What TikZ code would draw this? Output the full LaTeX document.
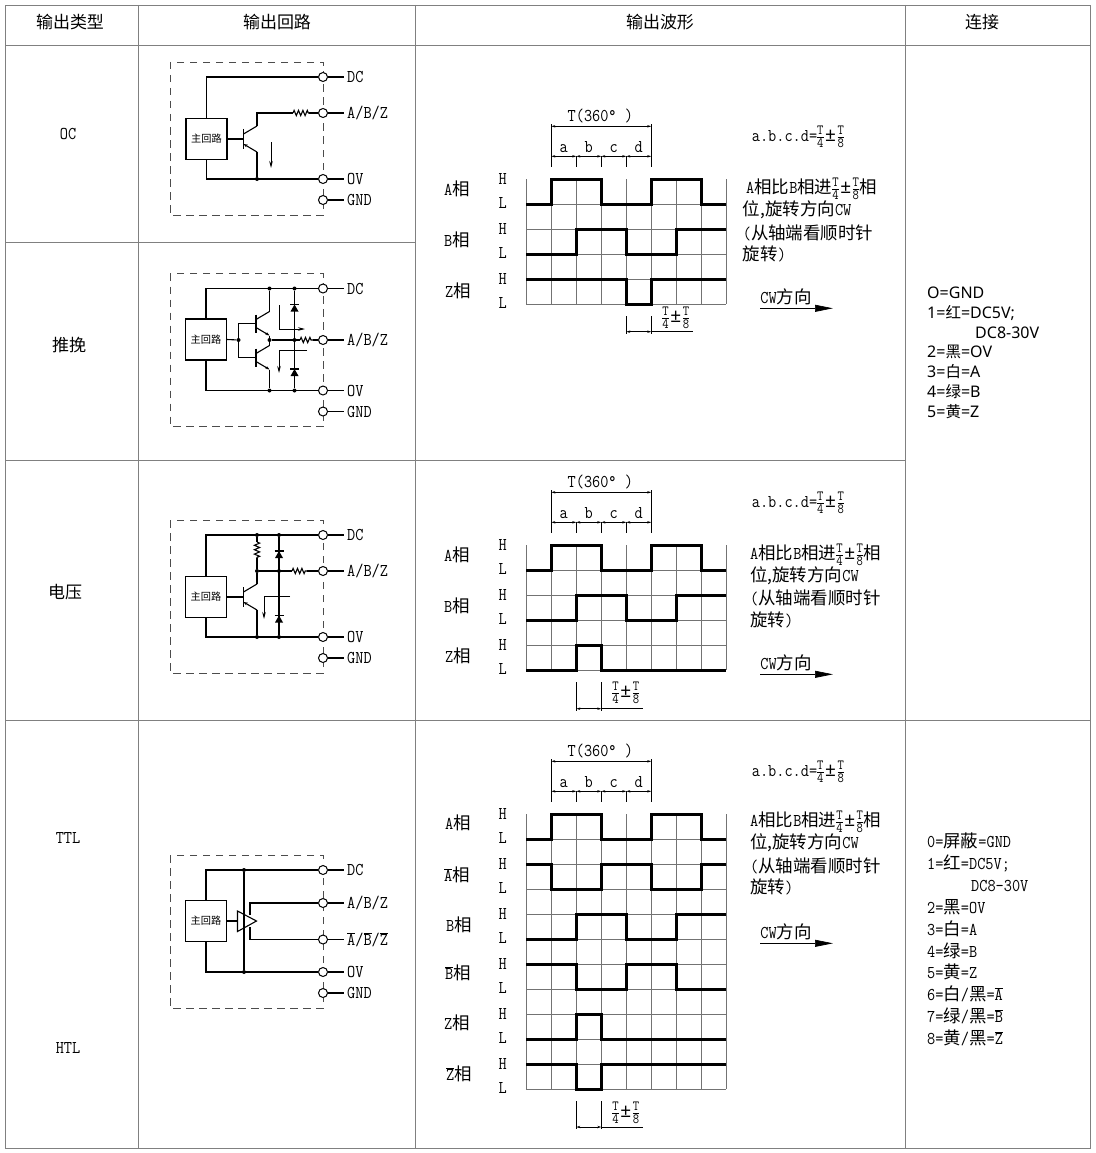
\documentclass[tikz,border=0pt]{standalone}
\usepackage{fontspec}
\setmainfont[FakeStretch=0.88]{Latin Modern Mono}
\newfontfamily\cjk[Scale=0.97]{Noto Sans CJK SC}
\newfontfamily\listsans{Noto Sans}
\usetikzlibrary{arrows.meta,positioning,decorations.pathmorphing}

\newcommand{\zh}[1]{{\cjk #1}}
\newcommand{\barsig}[1]{$\overline{\hbox{#1}}$}
\newcommand{\fracfont}{\fontsize{14}{14}\selectfont}
\newcommand{\pmsign}{\hbox to 14pt{\hss\listsans\fontsize{19}{19}\selectfont ±\hss}}
\newcommand{\tpm}{{\nulldelimiterspace=0pt $\frac{\hbox{\fracfont T}}{\hbox{\fracfont 4}}$\pmsign$\frac{\hbox{\fracfont T}}{\hbox{\fracfont 8}}$}}

\tikzset{
  tableline/.style={draw=black!50,line width=0.9pt},
  gridline/.style={draw=black!55,line width=0.8pt},
  wave/.style={draw=black,line width=2.5pt,line join=miter},
  wire/.style={draw=black,line width=1.1pt},
  res/.style={wire,decorate,decoration={zigzag,segment length=4.4pt,amplitude=2.6pt}},
  flow/.style={draw=black,line width=0.8pt,-{Stealth[length=7pt,width=3.5pt]}},
  dashbox/.style={draw=black!70,line width=0.9pt,dash pattern=on 7.5pt off 5.5pt},
  dimline/.style={draw=black,line width=0.7pt},
  dimarrow/.style={dimline,{Stealth[length=4pt,width=2.4pt]}-{Stealth[length=4pt,width=2.4pt]}},
  txt/.style={inner sep=0pt,font=\fontsize{18}{20}\selectfont},
  head/.style={inner sep=0pt,font=\fontsize{17.5}{20}\selectfont},
  lbl/.style={inner xsep=3pt,inner ysep=0pt,font=\fontsize{18}{20}\selectfont},
  term/.style={circle,draw=black,line width=1pt,fill=white,minimum size=9pt,inner sep=0pt},
  jdot/.style={circle,fill=black,minimum size=4pt,inner sep=0pt},
  mainbox/.style={draw=black,line width=1.1pt,minimum size=41pt,inner sep=0pt,font=\fontsize{10.5}{12}\selectfont},
  bjt/.pic={
    \draw[wire,line width=1.5pt] (0,-10) -- (0,10);
    \coordinate (-b) at (0,0);
    \coordinate (-c) at (13.5,-13);
    \coordinate (-e) at (13.5,13);
    \draw[wire] (0,-5) -- (-c);
    \draw[wire,{Stealth[length=4pt,width=3pt]}-] (0,5) -- (-e);
  },
  bjtout/.pic={
    \draw[wire,line width=1.5pt] (0,-9) -- (0,9);
    \coordinate (-b) at (0,0);
    \coordinate (-c) at (13.5,-12);
    \coordinate (-e) at (13.5,12);
    \draw[wire] (0,-4) -- (-c);
    \draw[wire,-{Stealth[length=4pt,width=3pt]}] (0,4) -- (-e);
  },
  diode/.pic={
    \fill[black] (-4,3.5) -- (4,3.5) -- (0,-3.5) -- cycle;
    \draw[wire] (-4.5,-3.5) -- (4.5,-3.5);
  }
}

% terminal on the right edge of a circuit box
\newcommand{\terminal}[3]{%
  \node[term] (#1) at (323,#2) {};
  \node[lbl,right=16pt of #1] (#1l) {#3};
  \draw[wire] (#1) -- (#1l.west);
}
\newcommand{\circframe}[2]{%
  \draw[dashbox] (170,#2) rectangle (323,#2+153);
  \terminal{#1dc}{#2+15}{DC}
  \terminal{#1ov}{#2+117}{OV}
  \terminal{#1gnd}{#2+138}{GND}
}
% period and quarter marks above a waveform grid
\newcommand{\wavetop}[2]{%
  \begin{scope}[shift={(526.3,#2)}]
    \foreach \k in {0,...,4} {
      \coordinate (#1h\k) at (25+25*\k,-23);
      \coordinate (#1e\k) at (25+25*\k,-12);
    }
    \coordinate (#1p0) at (25,-53);
    \coordinate (#1p4) at (125,-53);
    \coordinate (#1u0) at (25,-55);
    \coordinate (#1u4) at (125,-55);
    \draw[dimline] (#1u0) -- (#1e0);
    \draw[dimline] (#1u4) -- (#1e4);
    \foreach \k in {1,2,3} \draw[dimline] (#1h\k) -- (#1e\k);
    \draw[dimarrow] (#1p0) -- (#1p4);
    \foreach \a/\b in {0/1,1/2,2/3,3/4} \draw[dimarrow] (#1h\a) -- (#1h\b);
    \node[txt] (#1T) at (74,-63) {T(360°~)};
    \foreach \t [count=\i from 0] in {a,b,c,d}
      \node[txt,anchor=base] (#1\t) at (37.5+25*\i,-27) {\t};
    \node[txt,anchor=west] (#1eq) at (225.4,-42.6) {a.b.c.d=\tpm};
  \end{scope}
}
\newcommand{\wavegrid}[2]{%
  \foreach \k in {0,...,8} \draw[gridline] (\k,0) -- (\k,#1);
  \foreach \r in {1,...,#1} \draw[gridline] (0,\r) -- (8,\r);
  \foreach \r in {0,2,...,#2} {
    \node[txt] at (-0.944,\r) {H};
    \node[txt] at (-0.944,\r+0.93) {L};
  }
}
\newcommand{\phasetext}[4]{%
  \node[txt,anchor=west] (#1l1) at (#2,#4) {A\zh{相比}B\zh{相进}\tpm\zh{相}};
  \node[txt,anchor=west] (#1l2) at (#3,#4+21) {\zh{位,旋转方向}CW};
  \node[txt,anchor=west] (#1l3) at (#3,#4+43.5) {(\zh{从轴端看顺时针}};
  \node[txt,anchor=west] (#1l4) at (#3,#4+65) {\zh{旋转})};
}
\newcommand{\cwmark}[2]{%
  \node[txt] (#1cw) at (786,#2) {CW\zh{方向}};
  \coordinate (#1cwa) at (760,#2+11.3);
  \coordinate (#1cwb) at (833,#2+11.3);
  \draw[dimline,-{Stealth[length=18pt,width=7pt,inset=0pt]}] (#1cwa) -- (#1cwb);
}
\newcommand{\phasemark}[5]{%
  \coordinate (#1ma) at (#2,#3);
  \coordinate (#1mb) at (#2+25,#3);
  \coordinate (#1na) at (#2,#4);
  \coordinate (#1nb) at (#2+25,#4);
  \coordinate (#1nc) at (#2+25,#4+2);
  \coordinate (#1nd) at (#2,#4+2);
  \coordinate (#1ne) at (#2+67,#4);
  \draw[dimline] (#1ma) -- (#1nd);
  \draw[dimline] (#1mb) -- (#1nc);
  \draw[dimarrow] (#1na) -- (#1nb);
  \draw[dimline] (#1nb) -- (#1ne);
  \node[txt] (#1mf) at (#2+49.5,#5) {\tpm};
}

\begin{document}
\begin{tikzpicture}[x=1pt,y=-1pt]
  \useasboundingbox (0,0) rectangle (1095,1153);

  % table
  \draw[tableline] (5,5) rectangle (1090,1148);
  \draw[tableline] (138,5) -- (138,1148);
  \draw[tableline] (415,5) -- (415,1148);
  \draw[tableline] (905,5) -- (905,1148);
  \draw[tableline] (5,45) -- (1090,45);
  \draw[tableline] (5,242) -- (415,242);
  \draw[tableline] (5,460) -- (905,460);
  \draw[tableline] (5,720) -- (1090,720);

  \node[head] (h1) at (70,22) {\zh{输出类型}};
  \node[head] (h2) at (277,22) {\zh{输出回路}};
  \node[head] (h3) at (660,22) {\zh{输出波形}};
  \node[head] (h4) at (982,22) {\zh{连接}};
  \node[txt] (oc) at (68,134) {OC};
  \node[head] (pp) at (69,345) {\zh{推挽}};
  \node[head] (volt) at (65,592) {\zh{电压}};
  \node[txt] (ttl) at (68,838) {TTL};
  \node[txt] (htl) at (68,1048) {HTL};

  % OC circuit
  \circframe{c1}{62}
  \terminal{c1s}{113}{A/B/Z}
  \node[mainbox] (c1m) at (206.5,139) {\zh{主回路}};
  \pic (c1q) at (243.5,139) {bjt};
  \node[jdot] (c1d) at (257,179) {};
  \coordinate (c1r1) at (293,113);
  \coordinate (c1r2) at (309,113);
  \coordinate (c1fa) at (271,142);
  \coordinate (c1fb) at (271,168);
  \draw[wire] (c1m.north) |- (c1dc);
  \draw[wire] (c1m.south) |- (c1ov);
  \draw[wire] (c1m.east) -- (c1q-b);
  \draw[wire] (c1q-c) |- (c1r1);
  \draw[res] (c1r1) -- (c1r2);
  \draw[wire] (c1r2) -- (c1s);
  \draw[wire] (c1q-e) -- (c1d);
  \draw[flow] (c1fa) -- (c1fb);

  % push-pull circuit
  \circframe{c2}{273.5}
  \terminal{c2s}{340}{A/B/Z}
  \node[mainbox] (c2m) at (206,339.5) {\zh{主回路}};
  \pic (c2q) at (256,323.5) {bjtout};
  \pic (c2p) at (256,357.5) {bjtout};
  \node[jdot] (c2b) at (238.5,340) {};
  \node[jdot] (c2a) at (269.5,288.5) {};
  \node[jdot] (c2c) at (269.5,340) {};
  \node[jdot] (c2d) at (269.5,390.5) {};
  \node[jdot] (c2e) at (294.5,288.5) {};
  \node[jdot] (c2f) at (294.5,340) {};
  \node[jdot] (c2g) at (294.5,390.5) {};
  \coordinate (c2r1) at (300,340);
  \coordinate (c2r2) at (313,340);
  \coordinate (c2fa) at (279,305);
  \coordinate (c2fb) at (279,329);
  \coordinate (c2fc) at (305,329);
  \coordinate (c2fd) at (307,350);
  \coordinate (c2fe) at (279,350);
  \coordinate (c2ff) at (279,373);
  \draw[wire] (c2m.north) |- (c2dc);
  \draw[wire] (c2m.south) |- (c2ov);
  \draw[wire] (c2m.east) -- (c2b);
  \draw[wire] (c2b) |- (c2q-b);
  \draw[wire] (c2b) |- (c2p-b);
  \draw[wire] (c2q-c) -- (c2a);
  \draw[wire] (c2q-e) -- (c2c);
  \draw[wire] (c2p-c) -- (c2c);
  \draw[wire] (c2p-e) -- (c2d);
  \draw[wire] (c2c) -- (c2r1);
  \draw[res] (c2r1) -- (c2r2);
  \draw[wire] (c2r2) -- (c2s);
  \draw[wire] (c2e) -- (c2g);
  \pic at (294.5,308) {diode};
  \pic at (294.5,372.5) {diode};
  \draw[flow] (c2fa) -- (c2fb) -- (c2fc);
  \draw[flow] (c2fd) -- (c2fe) -- (c2ff);

  % voltage circuit
  \circframe{c3}{520}
  \terminal{c3s}{571}{A/B/Z}
  \node[mainbox] (c3m) at (206,597) {\zh{主回路}};
  \pic (c3q) at (243.5,597) {bjt};
  \node[jdot] (c3a) at (257,535) {};
  \node[jdot] (c3b) at (257,571) {};
  \node[jdot] (c3c) at (257,637) {};
  \node[jdot] (c3d) at (279,535) {};
  \node[jdot] (c3e) at (279,571) {};
  \node[jdot] (c3f) at (279,637) {};
  \coordinate (c3u1) at (257,542);
  \coordinate (c3u2) at (257,558);
  \coordinate (c3r1) at (292,571);
  \coordinate (c3r2) at (307,571);
  \coordinate (c3fa) at (290,596);
  \coordinate (c3fb) at (264,596);
  \coordinate (c3fc) at (264,619);
  \draw[wire] (c3m.north) |- (c3dc);
  \draw[wire] (c3m.south) |- (c3ov);
  \draw[wire] (c3m.east) -- (c3q-b);
  \draw[wire] (c3a) -- (c3u1);
  \draw[res] (c3u1) -- (c3u2);
  \draw[wire] (c3u2) -- (c3b);
  \draw[wire] (c3b) -- (c3q-c);
  \draw[wire] (c3q-e) -- (c3c);
  \draw[wire] (c3b) -- (c3r1);
  \draw[res] (c3r1) -- (c3r2);
  \draw[wire] (c3r2) -- (c3s);
  \draw[wire] (c3d) -- (c3f);
  \pic at (279,554.5) {diode};
  \pic at (279,619) {diode};
  \draw[flow] (c3fa) -- (c3fb) -- (c3fc);

  % TTL / HTL circuit
  \circframe{c4}{855}
  \terminal{c4s}{903}{A/B/Z}
  \terminal{c4n}{939.5}{\barsig{A}/\barsig{B}/\barsig{Z}}
  \node[mainbox] (c4m) at (206,921) {\zh{主回路}};
  \node[jdot] (c4a) at (244,870) {};
  \node[jdot] (c4b) at (244,972) {};
  \coordinate (c4t1) at (237.5,911);
  \coordinate (c4t2) at (256.5,921);
  \coordinate (c4t3) at (237.5,931.5);
  \coordinate (c4o1) at (250,915);
  \coordinate (c4o2) at (250,927);
  \coordinate (c4i) at (237.5,921);
  \draw[wire] (c4m.north) |- (c4dc);
  \draw[wire] (c4m.south) |- (c4ov);
  \draw[wire,line width=1.5pt] (c4a) -- (c4b);
  \draw[wire] (c4m.east) -- (c4i);
  \draw[wire] (c4t1) -- (c4t2) -- (c4t3) -- cycle;
  \draw[wire] (c4o1) |- (c4s);
  \draw[wire] (c4o2) |- (c4n);

  % OC and push-pull waveforms
  \begin{scope}[shift={(526.3,179.3)},x=25pt,y=-25pt]
    \wavegrid{5}{4}
    \draw[wave] (0,1) -| (1,0) -| (3,1) -| (5,0) -| (7,1) -- (8,1);
    \draw[wave] (0,3) -| (2,2) -| (4,3) -| (6,2) -- (8,2);
    \draw[wave] (0,4) -| (4,5) -| (5,4) -- (8,4);
  \end{scope}
  \wavetop{w1}{179.3}
  \node[txt] (w1ra) at (457,189) {A\zh{相}};
  \node[txt] (w1rb) at (457,240) {B\zh{相}};
  \node[txt] (w1rz) at (458,291) {Z\zh{相}};
  \phasetext{w1}{746}{742.7}{189}
  \cwmark{w1}{297}
  \phasemark{w1}{626.3}{316}{331.7}{318}

  % voltage waveforms
  \begin{scope}[shift={(526.3,545.3)},x=25pt,y=-25pt]
    \wavegrid{5}{4}
    \draw[wave] (0,1) -| (1,0) -| (3,1) -| (5,0) -| (7,1) -- (8,1);
    \draw[wave] (0,3) -| (2,2) -| (4,3) -| (6,2) -- (8,2);
    \draw[wave] (0,5) -| (2,4) -| (3,5) -- (8,5);
  \end{scope}
  \wavetop{w2}{545.3}
  \node[txt] (w2ra) at (457,555) {A\zh{相}};
  \node[txt] (w2rb) at (457,606) {B\zh{相}};
  \node[txt] (w2rz) at (458,656) {Z\zh{相}};
  \phasetext{w2}{750}{750}{554.5}
  \cwmark{w2}{663}
  \phasemark{w2}{576.3}{682}{708.7}{693}

  % TTL / HTL waveforms
  \begin{scope}[shift={(526.3,814.3)},x=25pt,y=-25pt]
    \wavegrid{11}{10}
    \draw[wave] (0,1) -| (1,0) -| (3,1) -| (5,0) -| (7,1) -- (8,1);
    \draw[wave] (0,2) -| (1,3) -| (3,2) -| (5,3) -| (7,2) -- (8,2);
    \draw[wave] (0,5) -| (2,4) -| (4,5) -| (6,4) -- (8,4);
    \draw[wave] (0,6) -| (2,7) -| (4,6) -| (6,7) -- (8,7);
    \draw[wave] (0,9) -| (2,8) -| (3,9) -- (8,9);
    \draw[wave] (0,10) -| (2,11) -| (3,10) -- (8,10);
  \end{scope}
  \wavetop{w3}{814.3}
  \node[txt] (w3ra) at (458,823) {A\zh{相}};
  \node[txt] (w3rn) at (457,875) {\barsig{A}\zh{相}};
  \node[txt] (w3rb) at (459,925) {B\zh{相}};
  \node[txt] (w3rm) at (458,973) {\barsig{B}\zh{相}};
  \node[txt] (w3rz) at (457,1023) {Z\zh{相}};
  \node[txt] (w3ry) at (459,1074) {\barsig{Z}\zh{相}};
  \phasetext{w3}{750}{750}{822}
  \cwmark{w3}{932}
  \phasemark{w3}{576.3}{1101}{1127}{1113}

  % wiring lists
  \foreach \txt [count=\n from 0] in {O=GND,1=\zh{红}=DC5V;,\hspace*{48pt}DC8-30V,2=\zh{黑}=OV,3=\zh{白}=A,4=\zh{绿}=B,5=\zh{黄}=Z}
    \node[inner sep=0pt,anchor=base west,font=\listsans\fontsize{16}{18}\selectfont] (la\n) at (927,298.5+19.8*\n) {\txt};
  \foreach \txt [count=\n from 0] in {0=\zh{屏蔽}=GND,1=\zh{红}=DC5V;,\hspace*{44pt}DC8-30V,2=\zh{黑}=OV,3=\zh{白}=A,4=\zh{绿}=B,5=\zh{黄}=Z,6=\zh{白}/\zh{黑}=\barsig{A},7=\zh{绿}/\zh{黑}=\barsig{B},8=\zh{黄}/\zh{黑}=\barsig{Z}}
    \node[txt,anchor=base west] (lb\n) at (927,847.5+21.9*\n) {\txt};
\end{tikzpicture}
\end{document}
